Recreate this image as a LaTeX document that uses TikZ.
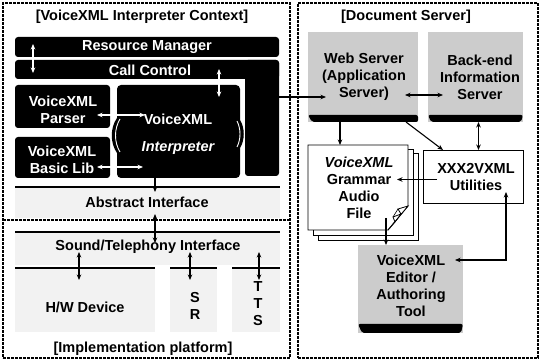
\documentclass[tikz,border=0pt]{standalone}
\usepackage{fontspec}
\setmainfont{Liberation Sans}
\usetikzlibrary{arrows.meta,calc}
\newcommand\diagfont{\fontsize{14.5}{17}\selectfont\bfseries}
\begin{document}
\begin{tikzpicture}[x=1pt,y=-1pt,
  frame/.style={draw, line width=1.1pt, dash pattern=on 2.6pt off 1.4pt},
  box/.style={anchor=north west, inner sep=0, outer sep=0},
  blk/.style={box, fill=black, rounded corners=3pt},
  srv/.style={box, fill=gray!40},
  band/.style={box, fill=gray!10},
  page/.style={box, draw, fill=white, line width=0.9pt},
  txt/.style={font=\diagfont, align=center, inner sep=0},
  wtxt/.style={txt, text=white},
  arr/.style={-{Stealth[length=5.5pt,width=4.5pt]}, line width=1.1pt},
  darr/.style={{Stealth[length=5.5pt,width=4.5pt]}-{Stealth[length=5.5pt,width=4.5pt]}, line width=1.1pt},
  bandrule/.style={line width=2.2pt}
]
\useasboundingbox[fill=white] (0,0) rectangle (541,363);

% ---------- outer frames ----------
\node[frame, box, minimum width=287, minimum height=355] (ctx) at (3,3) {};
\node[frame, box, minimum width=240, minimum height=355] (docsrv) at (298,3) {};
\draw[frame] (ctx.west |- 0,220) -- (ctx.east |- 0,220);

\node[txt] (ctxtitle) at (142,17) {[VoiceXML Interpreter Context]};
\node[txt] (dstitle) at (406,17) {[Document Server]};

% ---------- interpreter context: black blocks ----------
\node[blk, minimum width=264, minimum height=20] (rm) at (15,37) {};
\node[blk, minimum width=264, minimum height=19] (cc) at (15,60) {};
\node[blk, minimum width=34, minimum height=116] (ccol) at (245,60) {};
\node[blk, minimum width=95, minimum height=43] (parser) at (15,85) {};
\node[blk, minimum width=95, minimum height=41] (basic) at (15,137) {};
\node[box, minimum width=123, minimum height=93] (interp) at (117,85) {};
\fill (121,85) -- (236,85) to[out=0,in=90] (240,89) -- (240,120)
  .. controls (245,128) and (245,140) .. (240,148) -- (240,174)
  to[out=-90,in=0] (236,178) -- (121,178) to[out=180,in=-90] (117,174)
  -- (117,153) .. controls (110,143) and (110,128) .. (117,118)
  -- (117,89) to[out=90,in=180] (121,85) -- cycle;
\draw[white, line width=0.9pt] (120,119) .. controls (114,129) and (114,142) .. (120,152);
\draw[white, line width=0.9pt] (237,121) .. controls (241,129) and (241,139) .. (237,147);

\node[wtxt] (rmtxt) at (147,47) {Resource Manager};
\node[wtxt] (cctxt) at (150,70) {Call Control};
\node[wtxt] (parsertxt) at (63,110) {VoiceXML\\Parser};
\node[wtxt] (basictxt) at (62,160) {VoiceXML\\Basic Lib};
\node[wtxt] (interptxt) at (178,134) {VoiceXML\\[10pt]{\itshape Interpreter}};

\draw[darr, white] ($(rm.north west)+(18,7)$) -- ($(cc.south west)+(18,-6)$);
\draw[darr, white] ($(cc.south east)+(-60,-10)$) -- ($(interp.north east)+(-21,12)$);
\draw[darr, white] ($(parser.east)+(-13,8.5)$) -- ($(interp.west)+(28,-16.5)$);
\draw[darr, white] ($(basic.east)+(-13,9.5)$) -- ($(interp.west)+(26,35.5)$);

% ---------- interfaces ----------
\node[band, minimum width=265, minimum height=31] (abs) at (15,187) {};
\draw[bandrule] (abs.north west) -- (abs.north east);
\node[txt] (abstxt) at (147,202) {Abstract Interface};

\node[band, minimum width=265, minimum height=33] (snd) at (15,232) {};
\draw[bandrule] (snd.north west) -- (snd.north east);
\node[txt] (sndtxt) at (148,247) {Sound/Telephony Interface};

\node[band, minimum width=140, minimum height=64] (hw) at (15,268) {};
\node[band, minimum width=47, minimum height=64] (sr) at (170,268) {};
\node[band, minimum width=48, minimum height=64] (tts) at (232,268) {};
\foreach \n in {hw,sr,tts} \draw[bandrule] (\n.north west) -- (\n.north east);
\node[txt] (hwtxt) at (85,307) {H/W Device};
\node[txt] (srtxt) at (195,306) {S\\R};
\node[txt] (ttstxt) at (258,304) {T\\T\\S};
\node[txt] (impltitle) at (143,349) {[Implementation platform]};

\draw[arr] (interp.south -| hw.east) -- ([yshift=-5pt]abs.north -| hw.east);
\draw[darr] ([yshift=4pt]abs.south -| hw.east) -- ([yshift=-11pt]snd.north -| hw.east);
\draw[darr] ($(snd.north west)+(64,20)$) -- ($(hw.north west)+(64,12)$);
\draw[darr] ($(sr.north west)+(20,-16)$) -- ($(sr.north west)+(20,12)$);
\draw[darr] ($(tts.north west)+(27,-16)$) -- ($(tts.north west)+(27,12)$);

% ---------- document server ----------
\node[srv, minimum width=110, minimum height=90] (web) at (308,32) {};
\fill[rounded corners=2pt] ([yshift=7pt]web.south west) -- ([yshift=7pt]web.south east)
  -- (web.south east) -- ([xshift=4pt]web.south west) -- cycle;
\node[txt] (webtxt) at (364,77) {Web Server\\(Application\\Server)};

\node[srv, minimum width=95, minimum height=90] (back) at (428,32) {};
\fill[rounded corners=2pt] ([yshift=7pt]back.south west) -- ([yshift=7pt]back.south east)
  -- ([xshift=-2pt]back.south east) -- ([xshift=3pt]back.south west) -- cycle;
\node[txt] (backtxt) at (480,77) {Back-end\\Information\\Server};

% stacked documents
\node[page, minimum width=100, minimum height=87] (pg3) at (318,153) {};
\node[page, minimum width=100, minimum height=86] (pg2) at (313,149) {};
\node[box, minimum width=100, minimum height=85] (doc) at (308,145) {};
\filldraw[fill=white, line width=0.9pt] (doc.north west) -- (doc.north east) -- (408,206)
  -- (388,230) -- (doc.south west) -- cycle;
\filldraw[fill=white, line width=0.8pt] (408,206) -- (398,209) -- (401,214) -- (393,217)
  -- (395,222) -- (388,230) -- cycle;
\draw[line width=0.6pt] (398,209) -- (393,217) (401,214) -- (395,222);
\node[txt] (doctxt) at (359,188) {{\itshape VoiceXML}\\Grammar\\Audio\\File};

\node[page, minimum width=100, minimum height=53] (xxx) at (423,150) {};
\node[txt] (xxxtxt) at (476,177) {XXX2VXML\\Utilities};

\node[srv, minimum width=105, minimum height=88] (edit) at (358,245) {};
\fill[rounded corners=2pt] ([yshift=9pt]edit.south west) -- ([yshift=9pt]edit.south east)
  -- ([xshift=-2pt]edit.south east) -- ([xshift=4pt]edit.south west) -- cycle;
\node[txt] (edittxt) at (411,286) {VoiceXML\\Editor /\\Authoring\\Tool};

% connectors
\draw[arr] ($(ccol.east)+(0,-21)$) -- ($(web.west)+(18,20)$);
\draw[darr] ($(web.east)+(-13,18)$) -- ($(back.west)+(15,18)$);
\draw[arr] ([xshift=-23pt]web.south) -- ([xshift=-23pt]web.south |- doc.north);
\draw[arr] ($(web.south east)+(-12,0)$) -- ($(xxx.north west)+(20,0)$);
\draw[darr] ([xshift=3pt]back.south) -- ([xshift=3pt]back.south |- xxx.north);
\draw[arr] ($(xxx.west)+(14,3)$) -- ($(doc.east)+(-11,-8)$);
\draw[arr] ($(doc.south east)+(-22,-12)$) -- ([xshift=-22pt]doc.south east |- edit.north);
\draw[darr] ($(xxx.south east)+(-17,-11)$) |- ($(edit.east)+(-8,-29)$);
\end{tikzpicture}
\end{document}
